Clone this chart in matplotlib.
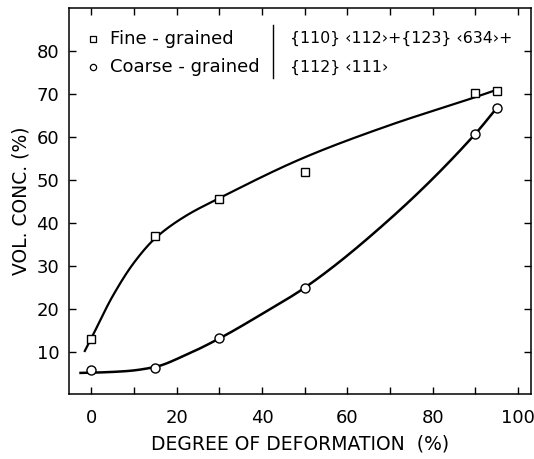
import numpy as np
import matplotlib
matplotlib.use("Agg")
import matplotlib.pyplot as plt

# ---- data ----
deformation = [0, 15, 30, 50, 90, 95]
fine_vol = [13.0, 37.0, 45.6, 51.9, 70.2, 70.6]
coarse_vol = [5.8, 6.3, 13.3, 24.9, 60.7, 66.7]

# smooth hand-drawn guide curves (knots)
fine_curve_x = [-1.5, 0, 5, 10, 15, 22, 30, 50, 70, 90, 95]
fine_curve_y = [10.3, 13.2, 23.0, 30.8, 36.5, 41.6, 45.8, 55.3, 62.8, 69.3, 71.0]
coarse_curve_x = [-2.5, 0, 8, 15, 22, 30, 40, 50, 70, 90, 95]
coarse_curve_y = [5.2, 5.25, 5.6, 6.6, 9.3, 13.2, 18.9, 25.0, 41.0, 60.8, 66.8]

x_ticks = [0, 20, 40, 60, 80, 100]
y_ticks = [10, 20, 30, 40, 50, 60, 70, 80]


def pchip(xk, yk, xs):
    xk = np.asarray(xk, float)
    yk = np.asarray(yk, float)
    h = np.diff(xk)
    delta = np.diff(yk) / h
    n = len(xk)
    m = np.zeros(n)
    for k in range(1, n - 1):
        if delta[k - 1] * delta[k] <= 0:
            m[k] = 0.0
        else:
            w1 = 2 * h[k] + h[k - 1]
            w2 = h[k] + 2 * h[k - 1]
            m[k] = (w1 + w2) / (w1 / delta[k - 1] + w2 / delta[k])
    m[0] = delta[0]
    m[-1] = delta[-1]
    idx = np.clip(np.searchsorted(xk, xs) - 1, 0, n - 2)
    t = (xs - xk[idx]) / h[idx]
    h00 = 2 * t ** 3 - 3 * t ** 2 + 1
    h10 = t ** 3 - 2 * t ** 2 + t
    h01 = -2 * t ** 3 + 3 * t ** 2
    h11 = t ** 3 - t ** 2
    return (h00 * yk[idx] + h10 * h[idx] * m[idx]
            + h01 * yk[idx + 1] + h11 * h[idx] * m[idx + 1])


plt.rcParams['font.family'] = ['DejaVu Sans']
fig = plt.figure(figsize=(5.34, 4.59), dpi=100)
ax = fig.add_axes([69 / 534, (459 - 394) / 459, 462 / 534, 386 / 459])

xs_f = np.linspace(fine_curve_x[0], fine_curve_x[-1], 500)
xs_c = np.linspace(coarse_curve_x[0], coarse_curve_x[-1], 500)
ax.plot(xs_f, pchip(fine_curve_x, fine_curve_y, xs_f), color='black', lw=1.6, zorder=2)
ax.plot(xs_c, pchip(coarse_curve_x, coarse_curve_y, xs_c), color='black', lw=1.8, zorder=2)

ax.plot(deformation, fine_vol, linestyle='none', marker='s', ms=5.5,
        mfc='white', mec='black', mew=1.0, zorder=3)
ax.plot(deformation, coarse_vol, linestyle='none', marker='o', ms=6.5,
        mfc='white', mec='black', mew=1.0, zorder=3)

ax.set_xlim(-5.2, 103)
ax.set_ylim(0.3, 90)
ax.set_xticks(x_ticks)
ax.set_xticks(np.arange(10, 100, 20), minor=True)
ax.set_yticks(y_ticks)
ax.tick_params(axis='both', which='both', direction='in', length=5, width=1,
               top=True, right=True, labelsize=13)
ax.tick_params(axis='x', which='major', pad=11)
ax.tick_params(axis='y', which='major', pad=7)
for s in ax.spines.values():
    s.set_linewidth(1.1)

ax.set_xlabel('DEGREE OF DEFORMATION  (%)', fontsize=13.5, labelpad=5)
ax.set_ylabel('VOL. CONC. (%)', fontsize=13.5, labelpad=4)

# legend-like annotation
tr = ax.transAxes
ax.plot([0.052], [0.92], marker='s', ms=4, mfc='white', mec='black', mew=0.9,
        transform=tr, clip_on=False)
ax.plot([0.052], [0.847], marker='o', ms=4.5, mfc='white', mec='black', mew=0.9,
        transform=tr, clip_on=False)
ax.text(0.089, 0.92, 'Fine - grained', transform=tr, fontsize=13, va='center')
ax.text(0.089, 0.847, 'Coarse - grained', transform=tr, fontsize=13, va='center')
ax.plot([0.442, 0.442], [0.819, 0.956], color='black', lw=1.0, transform=tr)
ax.text(0.478, 0.92, '{110} \u2039112\u203a+{123} \u2039634\u203a+', transform=tr,
        fontsize=11.3, va='center')
ax.text(0.478, 0.847, '{112} \u2039111\u203a', transform=tr, fontsize=11.3, va='center')

fig.savefig('out.png', dpi=100)
